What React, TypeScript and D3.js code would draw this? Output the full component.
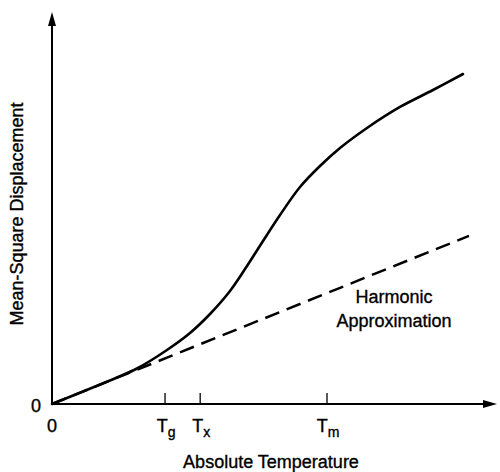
import React from 'react';
import * as d3 from 'd3';

// Real (anharmonic) mean-square displacement curve, arbitrary units
const tempValues = [0, 6.97, 14.61, 19.1, 25.84, 31.01, 35.51, 40.0, 43.82, 47.42, 51.24, 55.73, 60.22, 64.72, 70.79, 78.2, 85.62, 92.36];
const msdValues = [0, 3.19, 6.76, 9.06, 13.78, 18.11, 22.96, 28.83, 35.2, 41.58, 48.21, 55.35, 60.71, 65.3, 70.41, 75.77, 80.1, 84.18];

// Harmonic approximation (straight line)
const harmonicTemps = [0, 93.7];
const harmonicValues = [0, 42.9];

// Special temperatures
const tickSubscripts = ['g', 'x', 'm'];
const tickTemps = [25.4, 33.3, 61.8];

const xLabel = 'Absolute Temperature';
const yLabel = 'Mean-Square Displacement';
const harmonicLabel = ['Harmonic', 'Approximation'];

const FONT = '"Liberation Sans", Arial, Helvetica, sans-serif';

export default function App() {
  const W = 500;
  const H = 472;
  const x = d3.scaleLinear().domain([0, 100]).range([52, 497]);
  const y = d3.scaleLinear().domain([0, 100]).range([404, 12]);

  const solid = d3
    .line<number>()
    .x((d) => x(d))
    .y((_, i) => y(msdValues[i]))
    .curve(d3.curveCatmullRom.alpha(0.5))(tempValues) as string;

  const dashed = d3
    .line<number>()
    .x((d) => x(d))
    .y((_, i) => y(harmonicValues[i]))(harmonicTemps) as string;

  const x0 = x(0);
  const y0 = y(0);
  const xEnd = x.range()[1];
  const yEnd = y.range()[1];
  const ah = 14;
  const aw = 4;
  const txt = { fill: '#000', stroke: '#000', strokeWidth: 0.35 };

  return (
    <svg
      width={W}
      height={H}
      viewBox={`0 0 ${W} ${H}`}
      style={{ position: 'absolute', left: 0, top: 0, background: '#fff' }}
      fontFamily={FONT}
    >
      {/* axes */}
      <line x1={x0} y1={y0} x2={x0} y2={yEnd + ah - 2} stroke="#000" strokeWidth={2} />
      <path d={`M${x0},${yEnd} L${x0 - aw},${yEnd + ah} L${x0 + aw},${yEnd + ah} Z`} fill="#000" />
      <line x1={x0} y1={y0} x2={xEnd - ah + 2} y2={y0} stroke="#000" strokeWidth={2} />
      <path d={`M${xEnd},${y0} L${xEnd - ah},${y0 - aw} L${xEnd - ah},${y0 + aw} Z`} fill="#000" />

      {/* ticks */}
      {tickTemps.map((t, i) => (
        <g key={i}>
          <line x1={x(t)} x2={x(t)} y1={y0} y2={y0 - 11} stroke="#000" strokeWidth={1.3} />
          <text x={x(t) + 1} y={y0 + 28} fontSize={18} textAnchor="middle" {...txt}>
            T
            <tspan fontSize={14} dy={5}>
              {tickSubscripts[i]}
            </tspan>
          </text>
        </g>
      ))}

      {/* zero labels */}
      <text x={x0 - 16} y={y0 + 8} fontSize={18} textAnchor="middle" {...txt}>0</text>
      <text x={x0} y={y0 + 28} fontSize={18} textAnchor="middle" {...txt}>0</text>

      {/* curves */}
      <path d={dashed} fill="none" stroke="#000" strokeWidth={2.5} strokeDasharray="15,8" />
      <path d={solid} fill="none" stroke="#000" strokeWidth={2.6} strokeLinecap="round" />

      {/* harmonic label */}
      <text x={394} y={303} fontSize={18} textAnchor="middle" {...txt}>{harmonicLabel[0]}</text>
      <text x={394} y={327} fontSize={18} textAnchor="middle" {...txt}>{harmonicLabel[1]}</text>

      {/* axis titles */}
      <text x={271} y={468} fontSize={18} textAnchor="middle" {...txt}>{xLabel}</text>
      <text
        transform={`translate(23, 214) rotate(-90)`}
        fontSize={18}
        textAnchor="middle"
        {...txt}
      >
        {yLabel}
      </text>
    </svg>
  );
}
